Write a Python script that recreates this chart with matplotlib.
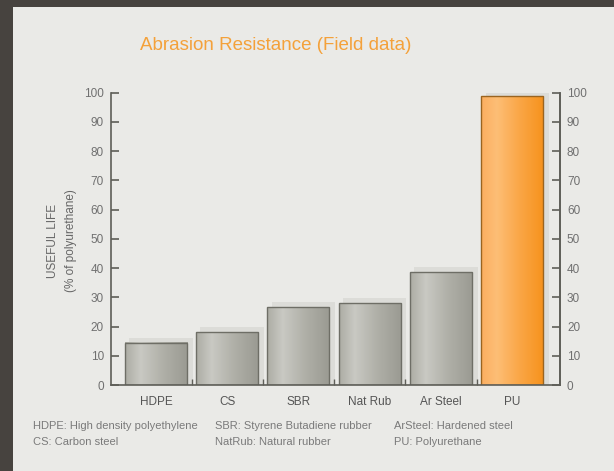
import numpy as np
import matplotlib
matplotlib.use('Agg')
import matplotlib.pyplot as plt
from matplotlib.patches import Rectangle
from matplotlib.colors import LinearSegmentedColormap

# data
materials = ['HDPE', 'CS', 'SBR', 'Nat Rub', 'Ar Steel', 'PU']
useful_life = [14.5, 18.0, 26.6, 28.0, 38.5, 98.8]
y_ticks = [0, 10, 20, 30, 40, 50, 60, 70, 80, 90, 100]
notes_col1 = ['HDPE: High density polyethylene', 'CS: Carbon steel']
notes_col2 = ['SBR: Styrene Butadiene rubber', 'NatRub: Natural rubber']
notes_col3 = ['ArSteel: Hardened steel', 'PU: Polyurethane']

plt.rcParams['font.family'] = ['Liberation Sans', 'DejaVu Sans']

panel = '#eaeae7'
axis_col = '#5e5e58'
label_col = '#707070'

grey_cmap = LinearSegmentedColormap.from_list(
    'grey', [(0, '#acaca4'), (0.25, '#c9c9c3'), (0.6, '#b0b0a8'), (1, '#9a9a92')])
orange_cmap = LinearSegmentedColormap.from_list(
    'orange', [(0, '#fbae60'), (0.25, '#fdbe76'), (0.6, '#faa748'), (1, '#f6921c')])

fig = plt.figure(figsize=(6.14, 4.71), dpi=100)
fig.patch.set_facecolor('#47433f')
fig.patches.append(Rectangle((13/614., 0), 1, (471-7)/471., transform=fig.transFigure,
                             facecolor=panel, edgecolor='none', zorder=-5))

ax = fig.add_axes([111/614., 1-385/471., (560-111)/614., (385-92.5)/471.])
ax.set_facecolor('none')

width = 0.87
grad = np.linspace(0, 1, 256).reshape(1, -1)
for i, val in enumerate(useful_life):
    x0 = i - width/2
    # soft shadow behind bar
    ax.add_patch(Rectangle((x0 + 0.06, 0), width + 0.02, val + 1.7,
                           facecolor='#dcdcd8', edgecolor='none', zorder=1))
    cmap = orange_cmap if materials[i] == 'PU' else grey_cmap
    edge = '#9a6420' if materials[i] == 'PU' else '#6e6e66'
    ax.imshow(grad, cmap=cmap, extent=[x0, x0 + width, 0, val], aspect='auto',
              zorder=2, interpolation='bilinear')
    ax.add_patch(Rectangle((x0, 0), width, val, facecolor='none',
                           edgecolor=edge, lw=1.0, zorder=3))
ax.set_xlim(-0.63, 5.67)
ax.set_ylim(0, 100)

ax.spines['top'].set_visible(False)
for s in ['left', 'right', 'bottom']:
    ax.spines[s].set_color(axis_col)
    ax.spines[s].set_linewidth(1.2)
    ax.spines[s].set_zorder(4)

ax.set_yticks(y_ticks)
ax.tick_params(axis='y', direction='in', length=6, width=1.2, color=axis_col,
               labelcolor=label_col, labelsize=8.5, pad=5,
               left=True, right=False, labelleft=True, labelright=False)
ax.set_xticks(range(len(materials)))
ax.set_xticklabels(materials)
ax.tick_params(axis='x', length=0, labelcolor='#555555', labelsize=8.5, pad=8)
ax.set_xticks(np.arange(0.5, 5, 1), minor=True)
ax.tick_params(axis='x', which='minor', direction='in', length=4, width=1, color=axis_col)

ax2 = ax.twinx()
ax2.set_ylim(0, 100)
ax2.set_yticks(y_ticks)
ax2.tick_params(axis='y', direction='in', length=6, width=1.2, color=axis_col,
                labelcolor=label_col, labelsize=8.5, pad=5)
for s in ['top', 'left', 'bottom']:
    ax2.spines[s].set_visible(False)
ax2.spines['right'].set_color(axis_col)
ax2.spines['right'].set_linewidth(1.2)

fig.text(275.5/614., 1-45/471., 'Abrasion Resistance (Field data)', color='#f4a13a',
         fontsize=13.5, ha='center', va='center')
fig.text(53/614., 1-241/471., 'USEFUL LIFE', rotation=90, color='#666666',
         fontsize=8.5, ha='center', va='center')
fig.text(71/614., 1-241/471., '(% of polyurethane)', rotation=90, color='#666666',
         fontsize=8.5, ha='center', va='center')

for x, col in [(33, notes_col1), (215, notes_col2), (394, notes_col3)]:
    for k, txt in enumerate(col):
        fig.text(x/614., 1-(426 + 16*k)/471., txt, color='#7a7a7a', fontsize=8,
                 ha='left', va='center')

fig.savefig('out.png', dpi=100, facecolor=fig.get_facecolor())
